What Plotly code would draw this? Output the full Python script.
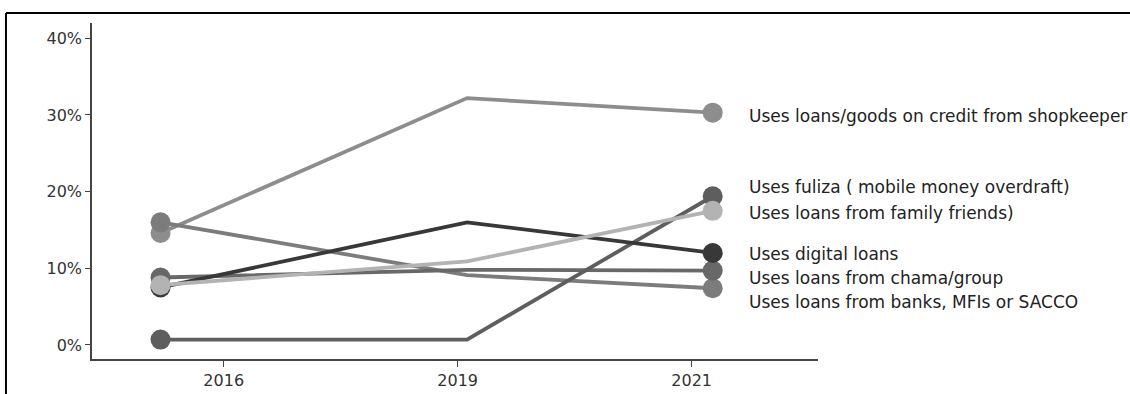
import plotly.graph_objects as go

# Survey rounds (tick labels) and where each round's fieldwork sits on the x scale
years = ["2016", "2019", "2021"]
year_ticks = [0, 1, 2]
survey_x = [-0.27, 1.04, 2.09]

# Share of adults using each credit source (%)
shopkeeper = [14.6, 32.2, 30.3]
fuliza = [0.7, 0.7, 19.4]
family = [7.8, 10.9, 17.5]
digital = [7.5, 16.0, 12.0]
chama = [8.8, 9.8, 9.7]
banks = [16.0, 9.1, 7.4]

series = [
    ("Uses loans/goods on credit from shopkeeper", shopkeeper, "#8d8d8d"),
    ("Uses loans from banks, MFIs or SACCO", banks, "#7c7c7c"),
    ("Uses loans from chama/group", chama, "#686868"),
    ("Uses fuliza ( mobile money overdraft)", fuliza, "#5e5e5e"),
    ("Uses digital loans", digital, "#383838"),
    ("Uses loans from family friends)", family, "#b3b3b3"),
]

# Vertical placement of the end labels, spread apart so they do not collide
label_y = {
    "Uses loans/goods on credit from shopkeeper": 29.9,
    "Uses fuliza ( mobile money overdraft)": 20.6,
    "Uses loans from family friends)": 17.2,
    "Uses digital loans": 11.9,
    "Uses loans from chama/group": 8.8,
    "Uses loans from banks, MFIs or SACCO": 5.6,
}

FONT = "DejaVu Sans"

fig = go.Figure()
for name, vals, color in series:
    # line through all rounds
    fig.add_trace(go.Scatter(
        x=survey_x, y=vals, mode="lines",
        line=dict(color=color, width=3.8),
        hoverinfo="skip", showlegend=False,
    ))
for name, vals, color in series:
    # dots at the first and last round only
    fig.add_trace(go.Scatter(
        x=[survey_x[0], survey_x[-1]], y=[vals[0], vals[-1]], mode="markers",
        marker=dict(color=color, size=20, line=dict(width=0)),
        name=name, showlegend=False,
    ))

for name, vals, color in series:
    fig.add_annotation(
        x=2.235, y=label_y[name], xref="x", yref="y",
        text=name, showarrow=False, xanchor="left", yanchor="middle",
        font=dict(family=FONT, size=17, color="#222222"),
    )

# frame around the graphic (top and left edges)
fig.add_shape(type="line", xref="paper", yref="paper",
              x0=-0.1185, x1=1.6, y0=1.03, y1=1.03,
              line=dict(color="black", width=2))
fig.add_shape(type="line", xref="paper", yref="paper",
              x0=-0.1185, x1=-0.1185, y0=1.03, y1=-0.3,
              line=dict(color="black", width=2))

fig.update_layout(
    width=1130, height=394,
    margin=dict(l=92, r=312, t=23, b=35),
    paper_bgcolor="white", plot_bgcolor="white",
    font=dict(family=FONT, size=14, color="#333333"),
    xaxis=dict(
        range=[-0.563, 2.54], tickmode="array", tickvals=year_ticks, ticktext=years,
        showgrid=False, zeroline=False, showline=True, linecolor="#444444", linewidth=1.5,
        ticks="outside", ticklen=6, tickcolor="#444444", tickwidth=1,
        tickfont=dict(family=FONT, size=16, color="#333333"), automargin=False,
    ),
    yaxis=dict(
        range=[-1.83, 42.0], tickmode="array", tickvals=[0, 10, 20, 30, 40],
        ticktext=["0%", "10%", "20%", "30%", "40%"],
        showgrid=False, zeroline=False, showline=True, linecolor="#444444", linewidth=1.5,
        ticks="outside", ticklen=5, tickcolor="#444444", tickwidth=1,
        tickfont=dict(family=FONT, size=16, color="#333333"), automargin=False,
    ),
)

fig.write_html("out.html")
